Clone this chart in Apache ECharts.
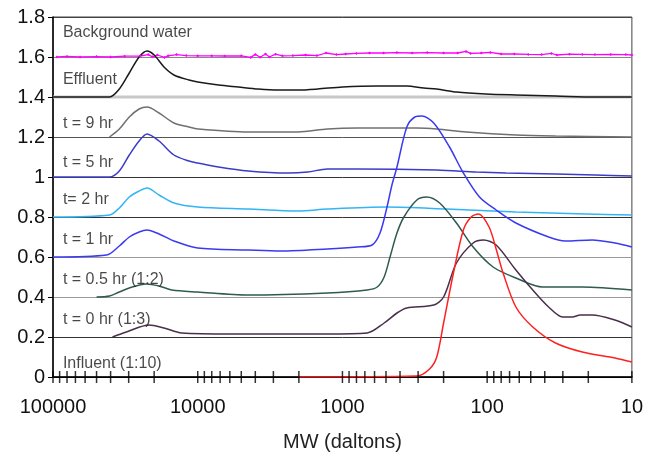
<!DOCTYPE html>
<html>
<head>
<meta charset="utf-8">
<script src="https://cdn.jsdelivr.net/npm/echarts@6/dist/echarts.min.js"></script>
<style>
  html, body { margin: 0; padding: 0; background: #fff; }
  #chart-container { width: 646px; height: 464px; }
</style>
</head>
<body>
<div id="chart-container"></div>
<script>
var dom = document.getElementById("chart-container");
var myChart = echarts.init(dom, null, { renderer: "canvas" });

// [MW (daltons), signal]
var backgroundWater = [
  [94000, 1.60], [80000, 1.603], [65000, 1.60], [50000, 1.602], [40000, 1.60],
  [32000, 1.604], [25000, 1.605], [22000, 1.612], [20500, 1.601], [19000, 1.61],
  [17000, 1.598], [16000, 1.606], [14000, 1.612], [12000, 1.607], [10000, 1.606],
  [8000, 1.606], [6500, 1.605], [5000, 1.606], [4300, 1.598], [4000, 1.613],
  [3700, 1.599], [3400, 1.615], [3200, 1.600], [2900, 1.614], [2600, 1.606],
  [2200, 1.607], [1800, 1.61], [1500, 1.607], [1300, 1.62], [1100, 1.612],
  [950, 1.615], [800, 1.618], [650, 1.62], [520, 1.62], [420, 1.622], [330, 1.62],
  [260, 1.622], [200, 1.62], [160, 1.62], [140, 1.628], [130, 1.618], [110, 1.62],
  [95, 1.623], [80, 1.615], [65, 1.615], [52, 1.613], [42, 1.612], [36, 1.618],
  [33, 1.61], [27, 1.614], [22, 1.613], [18, 1.612], [14, 1.613], [11, 1.612], [10, 1.61]
];
var effluent = [
  [100000, 1.40], [40700, 1.40], [34800, 1.44], [29700, 1.52], [25400, 1.60],
  [22400, 1.63], [20000, 1.61], [17100, 1.55], [14600, 1.51], [11500, 1.485],
  [10000, 1.475], [7180, 1.46], [5240, 1.45], [3820, 1.44], [2790, 1.435],
  [2030, 1.435], [1480, 1.44], [1000, 1.45], [575, 1.455], [359, 1.455],
  [274, 1.445], [223, 1.44], [163, 1.425], [102, 1.415], [63.3, 1.41],
  [33.7, 1.405], [17.9, 1.40], [10, 1.40]
];
var t9hr = [
  [40700, 1.20], [34800, 1.24], [29700, 1.30], [25400, 1.34], [22400, 1.35],
  [18500, 1.32], [14600, 1.27], [11500, 1.25], [10000, 1.24], [4480, 1.225],
  [2030, 1.225], [1270, 1.24], [790, 1.245], [306, 1.245], [223, 1.24],
  [139, 1.225], [63.3, 1.21], [33.7, 1.205], [10, 1.20]
];
var t5hr = [
  [100000, 1.0], [40700, 1.0], [34800, 1.03], [29700, 1.11], [25400, 1.18],
  [22400, 1.215], [18500, 1.18], [14600, 1.11], [11500, 1.08], [10000, 1.07],
  [7180, 1.05], [4480, 1.03], [2380, 1.02], [1740, 1.025], [1270, 1.04],
  [790, 1.04], [223, 1.035], [119, 1.025], [74.1, 1.02], [33.7, 1.015],
  [17.9, 1.01], [10, 1.005]
];
var t2hr = [
  [100000, 0.80], [40700, 0.81], [34800, 0.845], [29700, 0.90], [25400, 0.93],
  [22400, 0.945], [18500, 0.91], [14600, 0.87], [10000, 0.85], [4480, 0.84],
  [2030, 0.83], [1270, 0.84], [492, 0.85], [191, 0.84], [63.3, 0.825],
  [21, 0.815], [10, 0.81]
];
var t1hr = [
  [100000, 0.60], [42700, 0.61], [34800, 0.655], [29700, 0.70], [25400, 0.725],
  [22400, 0.735], [18500, 0.715], [14600, 0.68], [10000, 0.645], [4480, 0.635],
  [2660, 0.63], [1270, 0.64], [790, 0.65], [624, 0.66], [550, 0.72],
  [492, 0.85], [455, 0.96], [420, 1.05], [359, 1.25], [316, 1.30],
  [283, 1.305], [234, 1.27], [182, 1.15], [146, 1.02], [113, 0.90],
  [86.7, 0.835], [63.3, 0.77], [37.6, 0.70], [28.8, 0.68], [18.8, 0.685],
  [13.1, 0.67], [10, 0.65]
];
var t05hr = [
  [50000, 0.40], [40700, 0.405], [34800, 0.425], [29700, 0.445], [22700, 0.465],
  [18500, 0.455], [15100, 0.435], [10000, 0.425], [4480, 0.41], [1270, 0.42],
  [675, 0.435], [575, 0.45], [515, 0.50], [469, 0.60], [420, 0.72], [376, 0.80],
  [306, 0.885], [262, 0.90], [213, 0.87], [163, 0.77], [125, 0.65],
  [91, 0.55], [63.3, 0.495], [41.3, 0.45], [22, 0.45], [10, 0.435]
];
var t0hr = [
  [38800, 0.20], [31100, 0.225], [21700, 0.26], [17100, 0.245], [12900, 0.22],
  [5850, 0.215], [1270, 0.215], [675, 0.22], [515, 0.27], [420, 0.32],
  [359, 0.345], [234, 0.36], [200, 0.40], [163, 0.57], [125, 0.67],
  [106, 0.685], [86.7, 0.66], [63.3, 0.535], [48.4, 0.435], [37.6, 0.35],
  [30.1, 0.30], [25.8, 0.30], [22.7, 0.31], [18.8, 0.31], [13.1, 0.285], [10, 0.25]
];
var influent = [
  [2030, 0], [306, 0.005], [250, 0.04], [223, 0.10], [200, 0.27],
  [171, 0.52], [146, 0.735], [129, 0.80], [115, 0.815], [97, 0.75],
  [86.7, 0.64], [77.6, 0.52], [63.3, 0.35], [48.4, 0.25], [33.7, 0.17],
  [22, 0.125], [13.1, 0.095], [10, 0.075]
];

// the light, thicker baseline under the effluent trace
var effluentBaseline = [[100000, 1.4], [10, 1.4]];

// text labels inside the plot: [MW, y, text]
var curveLabels = [
  [85400, 1.72, "Background water"],
  [85400, 1.485, "Effluent"],
  [85400, 1.265, "t = 9 hr"],
  [85400, 1.07, "t = 5 hr"],
  [85400, 0.885, "t= 2 hr"],
  [85400, 0.685, "t = 1 hr"],
  [85400, 0.485, "t = 0.5 hr (1:2)"],
  [85400, 0.285, "t = 0 hr (1:3)"],
  [85400, 0.065, "Influent (1:10)"]
];

// log axis ticks: 1..9 times each decade
var decades = [10, 100, 1000, 10000];
var multiples = [1, 2, 3, 4, 5, 6, 7, 8, 9];
var tickMarks = [[100000, 0]];
decades.forEach(function (d) {
  multiples.forEach(function (m) { tickMarks.push([m * d, 0]); });
});

var font = "'Liberation Sans', Arial, sans-serif";

function curve(name, data, color, extra) {
  var s = {
    name: name,
    type: "line",
    data: data,
    smooth: 0.3,
    showSymbol: false,
    lineStyle: { color: color, width: 1.5 },
    itemStyle: { color: color },
    silent: true,
    z: 3
  };
  return Object.assign(s, extra || {});
}

var option = {
  animation: false,
  backgroundColor: "#fff",
  grid: {
    left: 53, right: 9, top: 17, bottom: 87,
    show: true, borderColor: "#444", borderWidth: 1
  },
  xAxis: {
    type: "log",
    logBase: 10,
    min: 10,
    max: 100000,
    inverse: true,
    name: "MW (daltons)",
    nameLocation: "middle",
    nameGap: 55,
    nameTextStyle: { fontFamily: font, fontSize: 20, color: "#222" },
    axisLine: { lineStyle: { color: "#000", width: 1.5 } },
    axisTick: { show: false },
    splitLine: { show: false },
    axisLabel: {
      fontFamily: font, fontSize: 20, color: "#111", margin: 20,
      formatter: function (v) { return String(Math.round(v)); }
    }
  },
  yAxis: {
    type: "value",
    min: 0,
    max: 1.8,
    interval: 0.2,
    axisLine: { show: true, lineStyle: { color: "#000", width: 1.5 } },
    axisTick: { show: true, length: 5, lineStyle: { color: "#000" } },
    axisLabel: { fontFamily: font, fontSize: 20, color: "#111", margin: 8 },
    splitLine: {
      show: true,
      lineStyle: {
        color: ["#000", "#333", "#999", "#999", "#333", "#333", "#555", "#c8c8c8", "#888", "#444"],
        width: 1
      }
    }
  },
  series: [
    curve("baseline", effluentBaseline, "#c8c8c8", {
      smooth: false, lineStyle: { color: "#c8c8c8", width: 3 }, z: 1
    }),
    curve("Background water", backgroundWater, "#ff00ff", {
      smooth: false, showSymbol: true, symbol: "diamond", symbolSize: 3, lineStyle: { color: "#ff00ff", width: 1.3 }
    }),
    curve("Effluent", effluent, "#1a1a1a"),
    curve("t = 9 hr", t9hr, "#707070"),
    curve("t = 5 hr", t5hr, "#3c3cc8"),
    curve("t= 2 hr", t2hr, "#33b5f5"),
    curve("t = 1 hr", t1hr, "#3a3af0"),
    curve("t = 0.5 hr (1:2)", t05hr, "#2f5a50"),
    curve("t = 0 hr (1:3)", t0hr, "#4a2f4a"),
    curve("Influent (1:10)", influent, "#ff2020"),
    {
      name: "ticks",
      type: "scatter",
      data: tickMarks,
      symbol: "rect",
      symbolSize: [1.5, 12],
      itemStyle: { color: "#000" },
      clip: false,
      silent: true,
      z: 4
    },
    {
      name: "labels",
      type: "scatter",
      data: curveLabels,
      symbolSize: 0,
      silent: true,
      label: {
        show: true,
        position: "right",
        distance: 0,
        fontFamily: font,
        fontSize: 16,
        color: "#1a1a1a",
        formatter: function (p) { return p.data[2]; }
      },
      z: 5
    }
  ]
};

myChart.setOption(option);
window.addEventListener("resize", myChart.resize);
</script>
</body>
</html>
